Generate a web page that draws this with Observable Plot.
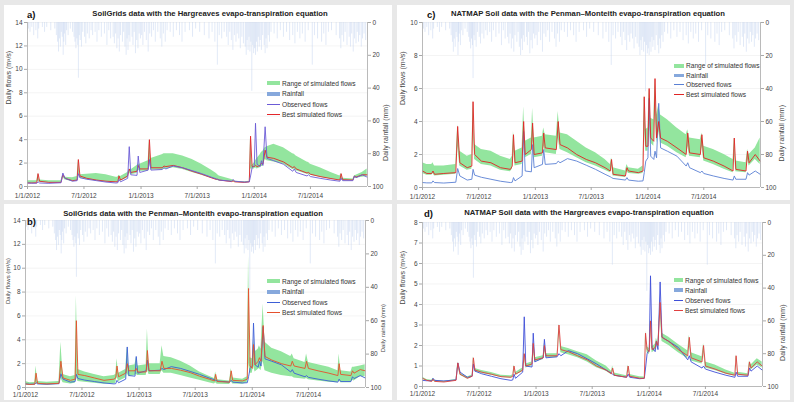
<!DOCTYPE html>
<html><head><meta charset="utf-8">
<script src="https://cdn.jsdelivr.net/npm/d3@7"></script>
<script src="https://cdn.jsdelivr.net/npm/@observablehq/plot@0.6"></script>
<style>
body{margin:0;background:#e8e8e8;width:794px;height:402px;overflow:hidden;font-family:"Liberation Sans",Arial,sans-serif;position:relative;}
.panel{position:absolute;background:#fff;}
.panel svg{position:absolute;left:0;top:0;}
.title{position:absolute;font-weight:bold;font-size:7.7px;line-height:1;color:#222;white-space:nowrap;transform:translate(-50%,-50%);}
.letter{position:absolute;font-weight:bold;font-size:9.5px;line-height:1;color:#111;transform:translateY(-50%);}
.legend{position:absolute;font-size:6.6px;color:#333;}
.legend .row{display:flex;align-items:center;white-space:nowrap;}
.sw{display:inline-block;margin-right:2px;}
</style></head><body>
<script>
// ---------- data ----------
const sampleDates = ["2012-01-01","2012-01-15","2012-01-31","2012-02-04","2012-02-09","2012-03-10","2012-04-18","2012-04-24","2012-05-01","2012-05-25",
"2012-06-09","2012-06-13","2012-06-18","2012-07-10","2012-08-10","2012-09-10","2012-10-12","2012-10-18","2012-10-22","2012-10-27",
"2012-11-19","2012-11-24","2012-11-29","2012-12-19","2012-12-23","2012-12-28","2013-01-24","2013-01-28","2013-02-02","2013-03-10",
"2013-03-16","2013-03-22","2013-04-15","2013-05-15","2013-06-15","2013-07-15","2013-08-15","2013-09-01","2013-09-05","2013-09-10",
"2013-10-20","2013-10-25","2013-10-30","2013-12-01","2013-12-16","2013-12-20","2013-12-25","2014-01-01","2014-01-05","2014-01-10",
"2014-01-20","2014-01-24","2014-01-29","2014-02-05","2014-02-11","2014-03-05","2014-04-05","2014-05-05","2014-05-10","2014-05-16",
"2014-06-20","2014-06-25","2014-07-01","2014-08-01","2014-09-05","2014-10-04","2014-10-08","2014-10-13","2014-11-15","2014-11-20",
"2014-11-25","2014-12-15","2014-12-31"];

const observed = [0.30,0.28,0.28,0.40,0.30,0.27,0.32,1.15,0.70,0.45,
0.50,1.10,0.75,0.62,0.50,0.38,0.30,0.32,0.60,0.40,
0.70,3.40,1.00,0.95,2.60,1.20,1.40,2.30,1.40,1.45,
1.60,1.50,1.75,1.60,1.35,1.10,0.80,0.65,0.60,0.55,
0.45,0.60,0.45,0.38,0.40,0.90,1.60,1.80,5.40,1.90,
1.70,2.20,1.80,5.10,2.40,2.20,1.90,1.30,1.50,1.20,
0.90,1.00,0.85,0.70,0.55,0.45,0.70,0.50,0.50,0.90,
0.75,1.00,0.80];

// a) SoilGrids + Hargreaves
const aBest = [0.30,0.30,0.32,1.10,0.45,0.35,0.35,1.00,0.70,0.50,
0.55,2.30,0.90,0.70,0.55,0.45,0.40,0.40,0.90,0.55,
0.90,1.50,1.20,1.30,1.80,1.50,1.50,4.00,1.60,1.60,
1.75,1.70,1.80,1.60,1.30,1.05,0.75,0.60,0.62,0.55,
0.42,0.48,0.40,0.35,0.40,4.30,1.70,1.70,1.80,1.70,
1.80,2.00,1.90,3.10,2.50,2.40,2.10,1.60,1.70,1.50,
1.15,1.20,1.05,0.85,0.68,0.55,1.10,0.58,0.55,0.90,
0.80,1.00,1.00];
const aLow = [0.26,0.26,0.28,0.50,0.35,0.30,0.30,0.80,0.55,0.42,
0.45,1.20,0.70,0.58,0.47,0.38,0.35,0.35,0.60,0.45,
0.75,1.20,1.00,1.10,1.40,1.30,1.30,2.00,1.40,1.40,
1.50,1.50,1.60,1.45,1.20,0.95,0.70,0.55,0.52,0.48,
0.38,0.40,0.35,0.30,0.35,1.50,1.50,1.50,1.60,1.50,
1.60,1.70,1.70,2.30,2.20,2.10,1.90,1.45,1.50,1.35,
1.05,1.05,0.95,0.78,0.62,0.50,0.60,0.50,0.50,0.70,
0.70,0.80,0.85];
const aHigh = [0.50,0.50,0.50,1.10,0.55,0.50,0.50,1.00,0.80,0.75,
0.85,2.30,1.00,1.05,1.10,1.00,0.80,0.80,0.95,0.85,
1.20,1.50,1.40,1.80,1.90,1.90,2.20,4.00,2.40,2.70,
2.80,2.80,2.80,2.60,2.30,1.90,1.40,1.10,1.00,0.90,
0.60,0.55,0.45,0.40,0.45,4.30,1.80,2.00,2.20,2.40,
2.70,2.90,3.00,3.30,3.40,3.60,3.30,2.80,2.75,2.60,
2.10,2.05,1.90,1.60,1.20,0.90,1.10,0.70,0.65,0.90,
0.95,1.20,1.50];

// b) SoilGrids + Penman–Monteith
const bBest = [0.30,0.25,0.28,1.20,0.35,0.30,0.35,2.20,0.80,0.60,
0.70,5.60,1.10,1.00,0.80,0.60,0.70,0.80,1.80,0.90,
1.20,2.00,1.40,1.40,1.60,1.30,1.30,3.10,1.40,1.40,
2.20,1.60,1.60,1.45,1.25,0.95,0.70,0.55,1.10,0.50,
0.45,1.40,0.60,0.55,0.70,8.30,1.80,1.60,3.60,1.90,
2.20,2.50,2.20,5.20,2.60,2.30,2.00,1.80,2.20,1.80,
1.60,2.20,1.60,1.40,1.20,1.00,2.00,1.10,1.00,1.40,
1.20,1.50,1.40];
const bLow = [0.20,0.18,0.20,0.40,0.25,0.20,0.25,0.80,0.40,0.30,
0.35,1.00,0.50,0.45,0.35,0.28,0.30,0.35,0.90,0.50,
0.80,1.20,0.90,1.00,1.10,1.00,1.00,1.50,1.10,1.10,
1.40,1.20,1.20,1.00,0.80,0.60,0.40,0.30,0.40,0.28,
0.25,0.50,0.30,0.28,0.40,2.00,1.20,1.20,1.80,1.30,
1.50,1.60,1.40,2.20,1.40,1.20,1.00,0.90,0.90,0.80,
0.70,0.75,0.65,0.55,0.45,0.40,0.60,0.40,0.40,0.60,
0.55,0.90,0.90];
const bHigh = [0.50,0.40,0.42,1.80,0.50,0.45,0.50,3.80,1.10,0.90,
1.00,7.70,1.50,1.30,1.10,0.90,1.00,1.10,2.40,1.20,
1.50,3.40,1.80,1.90,2.50,1.80,1.90,4.90,2.00,2.00,
3.50,2.60,2.50,2.20,1.80,1.30,0.95,0.75,1.30,0.65,
0.55,1.60,0.80,0.70,0.90,11.00,2.50,2.40,4.00,3.00,
3.20,3.50,3.20,7.00,3.80,3.30,3.00,2.60,2.80,2.40,
2.10,2.80,2.10,1.90,1.70,1.40,2.80,1.40,1.30,1.70,
1.70,1.80,1.90];

// c) NATMAP + Penman–Monteith
const cBest = [1.00,0.85,0.85,1.00,0.80,0.85,0.90,3.70,1.50,1.20,
1.30,5.20,2.00,1.60,1.50,1.20,1.10,1.30,3.20,1.50,
1.60,4.00,2.00,2.30,3.90,2.00,2.10,3.30,2.40,2.30,
4.00,2.60,2.40,2.00,1.70,1.50,1.20,1.00,1.70,0.80,
0.70,1.20,1.00,0.90,1.00,5.50,2.50,2.50,6.00,3.00,
2.80,6.60,3.00,4.00,3.00,2.80,2.40,2.00,3.30,2.10,
2.00,3.20,1.80,1.60,1.30,1.00,3.00,1.10,1.00,2.20,
1.50,2.00,1.60];
const cLow = [0.85,0.75,0.75,0.85,0.70,0.75,0.80,2.50,1.30,1.05,
1.10,3.50,1.70,1.40,1.30,1.05,0.95,1.10,2.30,1.30,
1.40,2.80,1.80,2.00,2.80,1.80,1.90,2.50,2.10,2.00,
3.00,2.30,2.10,1.80,1.50,1.30,1.05,0.90,1.30,0.70,
0.60,1.00,0.85,0.80,0.85,3.80,2.20,2.20,4.50,2.70,
2.50,4.80,2.70,3.40,2.70,2.50,2.10,1.80,2.50,1.90,
1.80,2.50,1.60,1.40,1.10,0.90,2.20,0.95,0.90,1.70,
1.30,1.70,1.40];
const cHigh = [1.50,1.40,1.40,1.50,1.30,1.30,1.40,3.80,2.20,1.90,
2.00,5.30,2.60,2.30,2.20,1.90,1.70,1.90,3.40,2.20,
2.40,4.90,2.80,3.00,4.80,3.00,3.10,3.60,3.20,3.10,
4.60,3.30,3.20,2.80,2.40,2.10,1.70,1.40,1.80,1.20,
1.00,1.40,1.20,1.10,1.30,5.60,3.50,3.60,6.00,4.20,
4.10,6.60,4.40,5.00,4.40,4.10,3.60,3.20,3.50,3.00,
2.90,3.30,2.50,2.30,2.00,1.70,3.00,1.60,1.50,2.30,
2.00,2.40,3.00];

// d) NATMAP + Hargreaves
const dBest = [0.40,0.30,0.25,0.35,0.25,0.22,0.30,1.15,0.60,0.40,
0.50,1.40,0.80,0.70,0.60,0.48,0.45,0.50,1.00,0.60,
0.80,1.60,1.00,1.10,2.10,1.30,1.40,2.00,1.50,1.50,
3.00,1.80,1.70,1.50,1.30,1.00,0.80,0.62,0.90,0.55,
0.45,1.00,0.50,0.40,0.40,2.60,1.80,1.70,3.20,1.80,
1.90,2.20,2.00,4.10,2.40,2.20,1.80,1.50,2.40,1.40,
1.20,2.00,1.00,0.85,0.65,0.55,1.50,0.60,0.55,1.20,
0.90,1.20,1.00];
const dLow = [0.35,0.27,0.22,0.30,0.22,0.20,0.27,1.00,0.55,0.36,
0.45,1.20,0.72,0.63,0.55,0.44,0.41,0.45,0.85,0.55,
0.72,1.40,0.90,1.00,1.80,1.20,1.30,1.80,1.40,1.40,
2.60,1.65,1.55,1.40,1.20,0.92,0.74,0.57,0.80,0.50,
0.41,0.85,0.45,0.36,0.36,2.30,1.65,1.55,2.90,1.65,
1.75,2.00,1.85,3.60,2.20,2.00,1.65,1.35,2.10,1.25,
1.10,1.70,0.90,0.78,0.60,0.50,1.30,0.55,0.50,1.00,
0.80,1.05,0.90];
const dHigh = [0.45,0.34,0.30,0.40,0.30,0.26,0.34,1.20,0.66,0.46,
0.56,1.45,0.88,0.78,0.68,0.55,0.52,0.57,1.05,0.68,
0.90,1.65,1.10,1.20,2.15,1.40,1.50,2.10,1.60,1.60,
3.05,1.95,1.85,1.70,1.55,1.25,1.00,0.75,1.00,0.66,
0.52,1.05,0.58,0.47,0.46,2.70,1.95,1.85,3.30,1.95,
2.05,2.35,2.15,4.20,2.60,2.40,2.05,1.75,2.50,1.65,
1.45,2.10,1.20,1.05,0.80,0.65,1.55,0.70,0.62,1.25,
1.05,1.35,1.20];

// daily rainfall events: day number since 1/1/2012 and depth (mm)
const rainDay = [3,8,14,20,27,33,36,48,55,62,75,88,
93,97,100,103,106,109,112,115,117,119,123,126,131,138,145,150,
153,156,159,162,164,167,170,174,178,184,188,193,199,205,210,
218,224,230,238,248,256,262,268,
276,280,284,288,292,296,300,306,310,314,318,321,324,327,330,
337,340,344,348,352,356,360,364,368,372,377,383,389,394,
400,406,412,420,428,433,438,444,450,460,470,480,490,498,508,
522,532,542,555,570,585,595,604,612,618,626,634,
642,647,652,657,662,667,672,676,681,686,691,696,
702,705,708,711,714,717,720,723,726,729,732,735,738,741,744,747,750,754,758,
763,766,769,772,776,780,785,795,805,815,825,835,845,855,862,870,878,
886,895,905,918,925,935,948,955,962,970,980,995,
1006,1010,1014,1019,1024,1030,1037,1041,1045,1050,1054,1059,1063,
1067,1071,1076,1080,1085,1090];
const rainMm = [4,6,3,8,5,10,4,3,6,3,5,4,
8,12,18,10,15,6,9,20,12,7,14,5,8,4,6,9,
12,16,10,14,34,8,11,15,6,9,13,7,10,5,8,
6,12,5,9,7,14,5,10,
9,13,7,16,10,18,8,12,6,15,20,10,17,8,12,
9,14,6,19,11,16,7,10,8,14,6,11,18,7,
9,5,12,6,10,15,7,12,5,6,9,5,8,12,6,
5,9,4,6,8,10,6,12,26,8,10,6,
9,14,6,11,17,8,12,7,10,16,9,13,
15,20,11,17,9,18,12,42,14,19,16,20,12,18,9,15,11,17,8,
14,19,10,16,8,12,6,7,10,5,9,6,11,8,13,6,10,
7,12,5,26,8,10,12,7,14,6,5,8,
10,16,8,12,6,14,9,15,7,18,10,13,6,
12,8,15,10,7,11];

const xTickLabels = ["2012-01-01","2012-07-01","2013-01-01","2013-07-01","2014-01-01","2014-07-01"];
const rainTickLabels = [0,20,40,60,80,100];
const legendLabels = ["Range of simulated flows","Rainfall","Observed flows","Best simulated flows"];

// ---------- panels ----------
const panels = [
 {letter:"a)", title:"SoilGrids data with the Hargreaves evapo-transpiration equation",
  left:4, top:5, w:388, h:195, ymax:14, step:2, ml:23, mr:25, mt:17, mb:14, tp:3.5,
  best:aBest, lo:aLow, hi:aHigh, obsColor:"#6b5bd6", bestColor:"#e3262b", obsOnTop:true,
  tx:206, ty:9, lx:23, ly:10, gx:263, gy:73, rowH:10.5, swW:13, leftDx:-19, rightDx:18, lblSize:7},
 {letter:"b)", title:"SoilGrids data with the Penman\u2013Monteith evapo-transpiration equation",
  left:4, top:204, w:388, h:196, ymax:14, step:2, ml:21, mr:27, mt:16, mb:13, tp:2,
  best:bBest, lo:bLow, hi:bHigh, obsColor:"#3d5fd6", bestColor:"#e5502d", obsOnTop:false,
  tx:189, ty:10, lx:23, ly:18, gx:263, gy:72, rowH:10.5, swW:13, leftDx:-17, rightDx:18, lblSize:6},
 {letter:"c)", title:"NATMAP Soil data with the Penman\u2013Monteith evapo-transpiration equation",
  left:397, top:5, w:393, h:195, ymax:10, step:2, ml:25, mr:30, mt:17, mb:13, tp:3.5,
  best:cBest, lo:cLow, hi:cHigh, obsColor:"#5a80d4", bestColor:"#e02525", obsOnTop:false,
  tx:191, ty:9, lx:30, ly:10, gx:277, gy:56, rowH:9.6, swW:10, leftDx:-20, rightDx:21, lblSize:7},
 {letter:"d)", title:"NATMAP Soil data with the Hargreaves evapo-transpiration equation",
  left:397, top:204, w:393, h:196, ymax:8, step:1, ml:25, mr:28, mt:18, mb:14, tp:2,
  best:dBest, lo:dLow, hi:dHigh, obsColor:"#3f4fd8", bestColor:"#e04040", obsOnTop:false,
  tx:192, ty:9, lx:27, ly:10, gx:277, gy:71, rowH:10, swW:9, leftDx:-20, rightDx:20, lblSize:7}
];

const parse = d3.utcParse("%Y-%m-%d");
const fmt = d3.utcFormat("%-m/%-d/%Y");
const x0 = Date.UTC(2012,0,1), x1 = Date.UTC(2015,0,1);
const dates = sampleDates.map(parse);
const xTicks = xTickLabels.map(parse);
const rain = rainDay.map((d,i)=>({date:new Date(Date.UTC(2012,0,1+d)), mm:rainMm[i]}));
const green = "#93e59e", rainColor = "#c2d3ee", axisGray = "#a8a8a8", txt = "#444";

for (const p of panels) {
  const div = document.createElement("div");
  div.className = "panel";
  Object.assign(div.style, {left:p.left+"px", top:p.top+"px", width:p.w+"px", height:p.h+"px"});
  document.body.appendChild(div);

  const ser = dates.map((d,i)=>({date:d, obs:observed[i], best:p.best[i], lo:p.lo[i], hi:p.hi[i]}));
  const leftTicks = d3.range(0, p.ymax + 1e-9, p.step);
  const toY = r => p.ymax * (1 - r/100);
  const obsLine = Plot.line(ser, {x:"date", y:"obs", stroke:p.obsColor, strokeWidth:0.9});
  const bestLine = Plot.line(ser, {x:"date", y:"best", stroke:p.bestColor, strokeWidth:0.9});

  const chart = Plot.plot({
    width:p.w, height:p.h,
    marginLeft:p.ml, marginRight:p.mr, marginTop:p.mt, marginBottom:p.mb,
    x:{type:"utc", domain:[new Date(x0), new Date(x1)]},
    y:{domain:[0, p.ymax]},
    style:{fontFamily:"'Liberation Sans', Arial, sans-serif", fontSize:"6.5px", color:txt, background:"transparent"},
    marks:[
      Plot.ruleY(leftTicks.slice(1), {stroke:"#ededed", strokeWidth:0.6}),
      Plot.ruleX(rain, {x:"date", y1:()=>p.ymax, y2:d=>toY(d.mm), stroke:rainColor, strokeWidth:0.5}),
      Plot.areaY(ser, {x:"date", y1:"lo", y2:"hi", fill:green}),
      ...(p.obsOnTop ? [bestLine, obsLine] : [obsLine, bestLine]),
      Plot.ruleX([new Date(x0), new Date(x1)], {stroke:axisGray, strokeWidth:0.8}),
      Plot.ruleY([0], {stroke:axisGray, strokeWidth:0.8}),
      Plot.axisX({ticks:xTicks, tickFormat:fmt, tickSize:3, tickPadding:p.tp, stroke:axisGray, fill:txt, label:null}),
      Plot.axisY({ticks:leftTicks, tickSize:3, tickPadding:2, stroke:axisGray, fill:txt, label:null}),
      Plot.axisY({anchor:"right", ticks:rainTickLabels.map(toY), tickFormat:v=>String(Math.round((1 - v/p.ymax)*100)),
        tickSize:3, tickPadding:2, stroke:axisGray, fill:txt, label:null}),
      Plot.text(["Daily flows (m\u00b3/s)"], {text:d=>d, frameAnchor:"left", rotate:-90, dx:p.leftDx, fontSize:p.lblSize, fill:txt}),
      Plot.text(["Daily rainfall (mm)"], {text:d=>d, frameAnchor:"right", rotate:-90, dx:p.rightDx, fontSize:p.lblSize, fill:txt})
    ]
  });
  div.appendChild(chart);

  const t = document.createElement("div");
  t.className = "title"; t.textContent = p.title;
  Object.assign(t.style, {left:p.tx+"px", top:p.ty+"px"});
  div.appendChild(t);

  const l = document.createElement("div");
  l.className = "letter"; l.textContent = p.letter;
  Object.assign(l.style, {left:p.lx+"px", top:p.ly+"px"});
  div.appendChild(l);

  const lg = document.createElement("div");
  lg.className = "legend";
  Object.assign(lg.style, {left:p.gx+"px", top:p.gy+"px"});
  const sws = [
    {c:green, h:4}, {c:"#86a8dc", h:3.5}, {c:p.obsColor, h:1}, {c:p.bestColor, h:1}
  ];
  legendLabels.forEach((lab,i)=>{
    const row = document.createElement("div");
    row.className = "row"; row.style.height = p.rowH+"px";
    const sw = document.createElement("span");
    sw.className = "sw";
    Object.assign(sw.style, {width:p.swW+"px", height:sws[i].h+"px", background:sws[i].c});
    const tx = document.createElement("span"); tx.textContent = lab;
    row.appendChild(sw); row.appendChild(tx);
    lg.appendChild(row);
  });
  div.appendChild(lg);
}
</script>
</body></html>
